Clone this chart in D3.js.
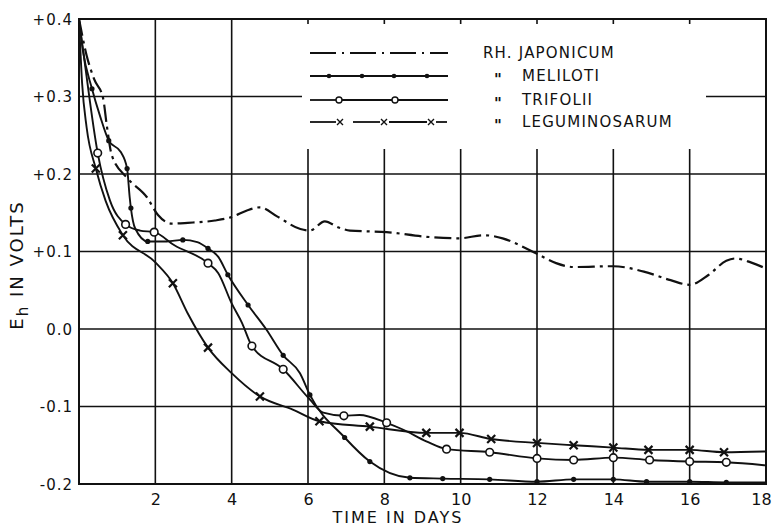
<!DOCTYPE html>
<html><head><meta charset="utf-8">
<script src="https://cdn.jsdelivr.net/npm/d3@7"></script>
<style>
html,body{margin:0;padding:0;background:#fff;}
svg{display:block;}
text{font-family:"DejaVu Sans",sans-serif;fill:#111;}
</style></head><body>
<svg id="c" width="774" height="528"></svg>
<script>
// ---- data (day, Eh volts, marker flag) ----
const japonicum = [[0,0.40],[0.2,0.353],[0.4,0.322],[0.63,0.298],[0.73,0.262],[0.86,0.224],[1.28,0.194],[1.78,0.17],[2.07,0.147],[2.43,0.136],[2.85,0.137],[3.56,0.14],[4.03,0.145],[4.4,0.153],[4.74,0.157],[5.2,0.145],[5.8,0.129],[6.05,0.127],[6.44,0.139],[6.8,0.131],[7.1,0.127],[8.06,0.125],[9.1,0.119],[9.97,0.117],[10.6,0.121],[11.1,0.117],[11.55,0.108],[12,0.097],[12.5,0.085],[12.96,0.080],[14,0.081],[14.8,0.074],[15.5,0.063],[16,0.057],[16.5,0.07],[16.96,0.088],[17.2,0.091],[17.6,0.086],[18,0.078]];
const meliloti = [[0,0.40,0],[0.1,0.36,0],[0.34,0.31,1],[0.55,0.275,0],[0.78,0.243,1],[1.1,0.228,0],[1.26,0.207,1],[1.33,0.169,0],[1.36,0.156,1],[1.47,0.13,0],[1.8,0.113,1],[2.3,0.113,0],[2.72,0.115,1],[3.1,0.112,0],[3.38,0.104,1],[3.65,0.093,0],[3.9,0.07,1],[4.43,0.031,1],[4.9,0.0,0],[5.35,-0.034,1],[5.79,-0.057,0],[6.05,-0.085,1],[6.96,-0.14,1],[7.62,-0.171,1],[8.67,-0.192,1],[9.53,-0.193,1],[10.76,-0.194,1],[12,-0.197,1],[12.96,-0.194,1],[14,-0.194,1],[14.87,-0.197,1],[16,-0.197,1],[16.96,-0.198,1],[18,-0.198,0]];
const trifolii = [[0,0.40,0],[0.16,0.34,0],[0.49,0.227,1],[0.81,0.166,0],[1.22,0.135,1],[1.6,0.127,0],[1.97,0.125,1],[2.5,0.108,0],[3.38,0.085,1],[3.65,0.072,0],[4.0,0.033,0],[4.27,0.008,0],[4.53,-0.022,1],[5.35,-0.052,1],[6.05,-0.091,0],[6.4,-0.108,0],[6.94,-0.112,1],[7.35,-0.111,0],[8.06,-0.121,1],[8.5,-0.13,0],[9.1,-0.145,0],[9.63,-0.155,1],[10.76,-0.159,1],[12,-0.167,1],[12.96,-0.169,1],[14,-0.166,1],[14.95,-0.169,1],[16,-0.171,1],[16.96,-0.172,1],[18,-0.176,0]];
const leguminosarum = [[0,0.40,0],[0.08,0.318,0],[0.2,0.26,0],[0.44,0.207,1],[0.7,0.165,0],[1.15,0.121,1],[2.0,0.086,0],[2.46,0.059,1],[2.85,0.02,0],[3.38,-0.024,1],[4.0,-0.057,0],[4.74,-0.087,1],[5.6,-0.104,0],[6.3,-0.119,1],[7.62,-0.126,1],[9.1,-0.134,1],[9.97,-0.134,1],[10.8,-0.142,1],[12,-0.147,1],[12.96,-0.15,1],[14,-0.153,1],[14.92,-0.156,1],[16,-0.156,1],[16.9,-0.159,1],[18,-0.158,0]];
const xTicks = [2,4,6,8,10,12,14,16,18];
const yTicks = [0.4,0.3,0.2,0.1,0.0,-0.1,-0.2];
const yTickLabels = ["+0.4","+0.3","+0.2","+0.1","0.0","-0.1","-0.2"];
const legendNames = ["RH. JAPONICUM","MELILOTI","TRIFOLII","LEGUMINOSARUM"];

const svg = d3.select("#c");
const x = d3.scaleLinear().domain([0,18]).range([79,766]);
const y = d3.scaleLinear().domain([-0.2,0.4]).range([484,19]);
const ink = "#111";

// grid
const g = svg.append("g");
g.selectAll(".vg").data(xTicks.filter(d=>d<18)).join("line")
  .attr("x1",d=>x(d)).attr("x2",d=>x(d)).attr("y1",y(0.4)).attr("y2",y(-0.2))
  .attr("stroke",ink).attr("stroke-width",1.6);
g.selectAll(".hg").data(yTicks.filter(d=>d<0.39&&d>-0.19)).join("line")
  .attr("x1",x(0)).attr("x2",x(18)).attr("y1",d=>y(d)).attr("y2",d=>y(d))
  .attr("stroke",ink).attr("stroke-width",1.6);
// legend background covering grid
svg.append("rect").attr("x",302).attr("y",24).attr("width",404).attr("height",125).attr("fill","#fff");
// frame
svg.append("rect").attr("x",x(0)).attr("y",y(0.4)).attr("width",x(18)-x(0)).attr("height",y(-0.2)-y(0.4))
  .attr("fill","none").attr("stroke",ink).attr("stroke-width",2);

// axes
const yAxis = d3.axisLeft(y).tickValues(yTicks).tickSize(0).tickPadding(6)
  .tickFormat((d,i)=>yTickLabels[i]);
const ya = svg.append("g").attr("transform",`translate(${x(0)},0)`).call(yAxis);
ya.select(".domain").remove();
ya.selectAll("text").style("font-size","15px").style("letter-spacing","1px").attr("fill",ink).attr("dy","0.35em");

const xAxis = d3.axisBottom(x).tickValues(xTicks).tickSize(0).tickPadding(10).tickFormat(d=>String(d));
const xa = svg.append("g").attr("transform",`translate(0,${y(-0.2)})`).call(xAxis);
xa.select(".domain").remove();
xa.selectAll("text").style("font-size","16px").attr("fill",ink)
  .attr("dx",d=>d===18?"-5":"0");

svg.append("text").attr("x",398).attr("y",523).attr("text-anchor","middle")
  .style("font-size","16px").style("letter-spacing","2px").text("TIME IN DAYS");
const yt = svg.append("text").attr("transform","translate(23,265) rotate(-90)").attr("text-anchor","middle")
  .style("font-size","18px").style("letter-spacing","2px");
yt.append("tspan").text("E");
yt.append("tspan").attr("dy","5").style("font-size","15px").text("h");
yt.append("tspan").attr("dy","-5").text(" IN VOLTS");

// curves
const line = d3.line().x(d=>x(d[0])).y(d=>y(d[1])).curve(d3.curveMonotoneX);
const lines = svg.append("g").attr("fill","none").attr("stroke",ink).attr("stroke-width",1.9);
lines.append("path").attr("d",line(japonicum)).attr("stroke-dasharray","17,5,3,5").attr("stroke-width",2.2);
lines.append("path").attr("d",line(meliloti));
lines.append("path").attr("d",line(trifolii));
lines.append("path").attr("d",line(leguminosarum));

// markers
svg.append("g").selectAll("circle").data(meliloti.filter(d=>d[2])).join("circle")
  .attr("cx",d=>x(d[0])).attr("cy",d=>y(d[1])).attr("r",2.6).attr("fill",ink);
svg.append("g").selectAll("circle").data(trifolii.filter(d=>d[2])).join("circle")
  .attr("cx",d=>x(d[0])).attr("cy",d=>y(d[1])).attr("r",3.8).attr("fill","#fff").attr("stroke",ink).attr("stroke-width",1.6);
function cross(sel,s,w){
  sel.append("path").attr("d",`M${-s},${-s}L${s},${s}M${-s},${s}L${s},${-s}`).attr("stroke",ink).attr("stroke-width",w).attr("fill","none");
}
svg.append("g").selectAll("g").data(leguminosarum.filter(d=>d[2])).join("g")
  .attr("transform",d=>`translate(${x(d[0])},${y(d[1])})`).each(function(){cross(d3.select(this),4,2.2);});

// legend
const L = svg.append("g");
const rows = [53,76,100,122];
L.append("line").attr("x1",310).attr("x2",448).attr("y1",rows[0]).attr("y2",rows[0])
  .attr("stroke",ink).attr("stroke-width",2).attr("stroke-dasharray","26,6,2,6");
L.append("line").attr("x1",310).attr("x2",448).attr("y1",rows[1]).attr("y2",rows[1]).attr("stroke",ink).attr("stroke-width",1.8);
L.selectAll(".ld").data([329,362,394,427]).join("circle").attr("cx",d=>d).attr("cy",rows[1]).attr("r",2.3).attr("fill",ink);
[[310,336],[342,392],[398,448]].forEach(s=>L.append("line").attr("x1",s[0]).attr("x2",s[1]).attr("y1",rows[2]).attr("y2",rows[2]).attr("stroke",ink).attr("stroke-width",1.8));
L.selectAll(".lc").data([339,395]).join("circle").attr("cx",d=>d).attr("cy",rows[2]).attr("r",3).attr("fill","#fff").attr("stroke",ink).attr("stroke-width",1.4);
[[310,336],[353,380],[389,427],[436,447]].forEach(s=>L.append("line").attr("x1",s[0]).attr("x2",s[1]).attr("y1",rows[3]).attr("y2",rows[3]).attr("stroke",ink).attr("stroke-width",1.8));
[340,384,431].forEach(cx=>{const gg=L.append("g").attr("transform",`translate(${cx},${rows[3]})`);cross(gg,3,1.4);});
legendNames.forEach((n,i)=>{
  L.append("text").attr("x",i===0?483:522).attr("y",rows[i]).attr("dy","0.36em")
    .style("font-size","15px").style("letter-spacing","1.2px").text(n);
  if(i>0) L.append("text").attr("x",494).attr("y",rows[i]).attr("dy","0.62em").style("font-size","15px").style("font-weight","bold").text("\"");
});
</script></body></html>
